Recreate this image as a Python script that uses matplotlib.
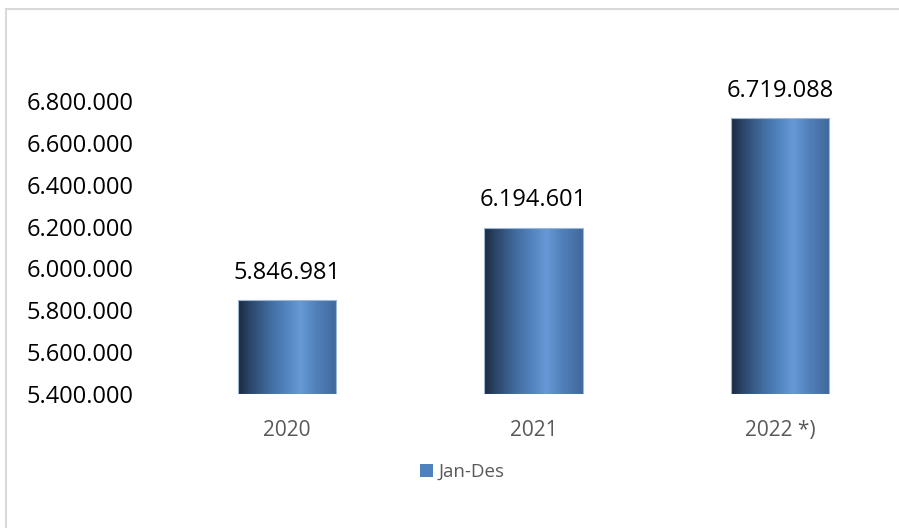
import matplotlib
matplotlib.use("Agg")
import matplotlib.pyplot as plt
import numpy as np
from matplotlib.colors import LinearSegmentedColormap
from matplotlib.patches import Rectangle
from matplotlib.ticker import FixedLocator, FuncFormatter

categories = ["2020", "2021", "2022 *)"]
values = [5846981, 6194601, 6719088]
series_name = "Jan-Des"
y_ticks = [5400000, 5600000, 5800000, 6000000, 6200000, 6400000, 6600000, 6800000]

W, H = 899, 528
fig = plt.figure(figsize=(W / 100, H / 100), dpi=100)
fig.patch.set_facecolor("white")

FONT = "Open Sans"

# chart frame (light grey border, left and top edges)
fig.add_artist(Rectangle((6 / W, -0.5), 2.0, (H - 9) / H + 0.5, transform=fig.transFigure,
                         facecolor="none", edgecolor="#d9d9d9", linewidth=1.5))

ax = fig.add_axes([164 / W, (H - 394) / H, 739 / W, 293 / H])
ax.set_facecolor("none")

x = np.arange(len(categories))
bars = ax.bar(x, [v - y_ticks[0] for v in values], bottom=y_ticks[0], width=0.40,
              color="none", edgecolor="none")

cmap = LinearSegmentedColormap.from_list("cyl", [
    (0.00, "#1b2a40"),
    (0.12, "#2c4669"),
    (0.32, "#416c9f"),
    (0.50, "#5486c2"),
    (0.63, "#6699d6"),
    (0.80, "#507fb8"),
    (1.00, "#40699c"),
])
grad = np.linspace(0, 1, 256).reshape(1, -1)

for rect in bars:
    x0, y0 = rect.get_x(), rect.get_y()
    w, h = rect.get_width(), rect.get_height()
    im = ax.imshow(grad, cmap=cmap, aspect="auto", extent=[x0, x0 + w, y0, y0 + h],
                   zorder=2, interpolation="bicubic")
    edge = Rectangle((x0, y0), w, h, facecolor="none", edgecolor="#9db7d8",
                     linewidth=0.8, zorder=3)
    ax.add_patch(edge)
    im.set_clip_path(edge)

def dotted(v, pos=None):
    return f"{int(round(v)):,}".replace(",", ".")

for xi, v in zip(x, values):
    ax.annotate(dotted(v), (xi, v), xytext=(0, 11), textcoords="offset points",
                ha="center", va="bottom", fontsize=17, family=FONT, color="black")

ax.set_xlim(-0.5, 2.5)
ax.set_ylim(y_ticks[0], y_ticks[-1])
ax.yaxis.set_major_locator(FixedLocator(y_ticks))
ax.yaxis.set_major_formatter(FuncFormatter(dotted))
ax.set_xticks(x)
ax.set_xticklabels(categories)

for spine in ax.spines.values():
    spine.set_visible(False)
ax.tick_params(axis="y", length=0, pad=(164 - 27) * 0.72, labelsize=17, labelcolor="black")
ax.tick_params(axis="x", length=0, pad=19, labelsize=15, labelcolor="#595959")
for lab in ax.get_yticklabels():
    lab.set_horizontalalignment("left")
    lab.set_family(FONT)
for lab in ax.get_xticklabels():
    lab.set_family(FONT)

handle = Rectangle((0, 0), 1, 1, facecolor="#4f81bd", edgecolor="none")
leg = fig.legend([handle], [series_name], loc="center", bbox_to_anchor=(462 / W, (H - 472) / H),
                 frameon=False, handlelength=0.7, handleheight=0.7, handletextpad=0.3,
                 prop={"family": FONT, "size": 13.5})
for t in leg.get_texts():
    t.set_color("#595959")

fig.savefig("out.png", dpi=100, facecolor="white")
